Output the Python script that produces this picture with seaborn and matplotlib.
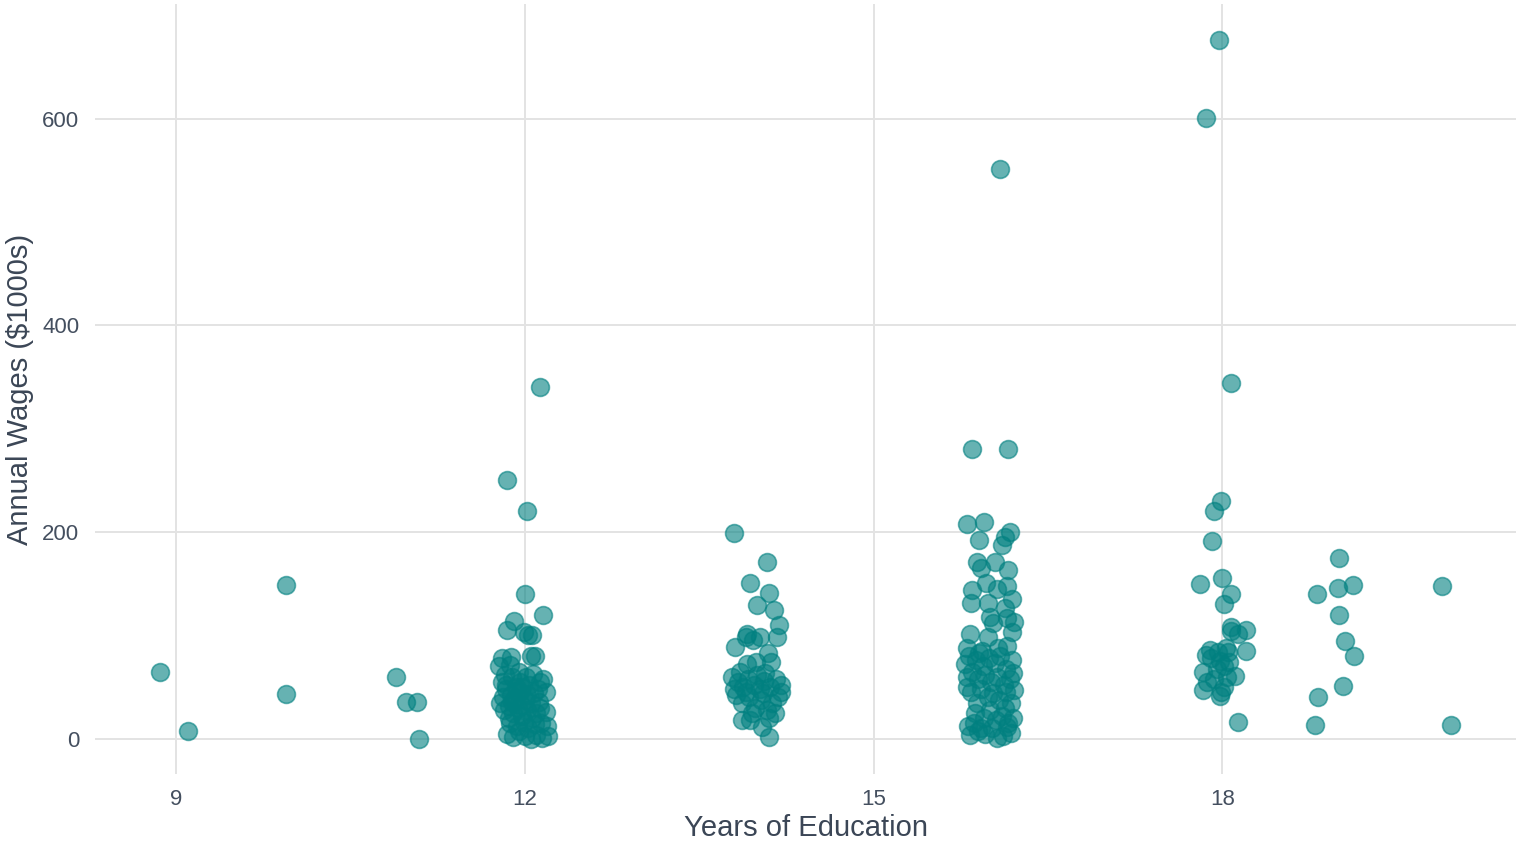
import matplotlib
matplotlib.use("Agg")
import matplotlib.pyplot as plt
import seaborn as sns
import pandas as pd

# Years of education (jittered positions) and annual wages ($1000s)
educ_low = [8.86, 9.10, 9.95, 9.95, 10.89, 10.98, 11.07, 11.09]
wage_low = [65, 8, 149, 43, 60, 36, 36, 0]

educ_12 = [12.13, 11.85, 12.02, 12.00, 12.16, 11.91, 11.85, 11.99, 12.03, 12.06, 12.09, 12.05,
           11.80, 11.88, 11.78, 11.87,
           11.80, 11.84, 11.88, 11.92, 11.96, 12.00, 12.04, 12.08, 12.12, 12.16, 12.18, 11.79,
           11.82, 11.86, 11.90, 11.94, 11.98, 12.02, 12.06, 12.10, 12.14, 12.18, 11.83, 11.89,
           11.95, 12.01, 12.07, 12.13, 12.19, 11.85, 11.90, 11.95, 12.00, 12.05, 12.10, 12.15,
           12.20, 11.87, 11.93, 11.99, 12.03, 12.09, 11.81, 11.97, 12.11, 11.91, 12.05, 11.86,
           12.13, 11.96, 11.84, 11.93, 12.02, 11.89, 11.98]
wage_12 = [340, 250, 220, 140, 120, 114, 105, 103, 100, 100, 80, 80,
           78, 79, 70, 71,
           55, 48, 42, 50, 45, 38, 52, 44, 36, 58, 45, 35,
           28, 32, 25, 30, 22, 28, 20, 25, 15, 26, 62, 60,
           65, 60, 63, 55, 12, 5, 2, 8, 3, 0, 4, 1,
           3, 15, 12, 16, 10, 14, 40, 33, 48, 38, 35, 20,
           30, 55, 52, 46, 42, 36, 50]

educ_14 = [13.80, 14.08, 13.94, 14.10, 14.00, 14.14, 14.19, 13.91, 13.90, 14.02, 14.17, 13.81,
           13.96, 14.09, 13.91, 13.99, 14.12, 13.87, 13.94, 14.04, 14.10,
           13.78, 13.83, 13.88, 13.92, 13.97, 14.02, 14.06, 14.11, 14.16, 14.20, 13.82, 13.87,
           13.93, 13.98, 14.03, 14.08, 14.13, 14.18, 13.90, 14.00, 14.15, 13.85, 14.05, 13.95,
           14.10, 14.20, 13.80, 14.07]
wage_14 = [199, 171, 151, 141, 129, 125, 110, 101, 99, 99, 99, 89,
           96, 83, 72, 74, 74, 18, 18, 11, 2,
           60, 55, 50, 58, 52, 48, 56, 50, 58, 45, 42, 35,
           40, 30, 38, 28, 35, 40, 45, 62, 25, 65, 44, 25,
           20, 52, 48, 64]

educ_16 = [16.09, 15.85, 16.16, 15.80, 15.95, 15.91, 16.17, 16.13, 16.10,
           15.89, 15.92, 16.04, 16.16, 15.97, 15.85, 16.15, 16.06, 15.84, 15.98, 16.19, 16.13,
           16.00, 16.03, 16.15, 16.21, 15.83, 15.98, 16.19, 15.80, 16.15, 15.91,
           15.79, 15.80, 15.80, 15.89, 16.20, 16.21, 15.81, 15.83, 16.06, 16.15, 15.92,
           15.82, 15.88, 15.94, 15.99, 16.04, 16.09, 16.14, 16.19, 15.85, 15.90, 15.96, 16.01,
           16.06, 16.12, 16.17, 15.84, 15.92, 15.98, 16.03, 16.08, 16.13, 16.18, 15.87, 15.95,
           16.00, 16.05, 16.10, 16.16, 16.20, 15.90, 15.96, 16.02, 16.11, 16.18, 15.93, 16.07,
           15.86, 16.14]
wage_16 = [551, 280, 280, 208, 210, 192, 200, 195, 188,
           171, 165, 171, 163, 151, 144, 148, 145, 131, 131, 135, 127,
           118, 112, 117, 113, 101, 99, 103, 88, 90, 83,
           72, 60, 50, 35, 64, 47, 12, 4, 1, 11, 10,
           80, 76, 70, 78, 73, 80, 68, 76, 65, 58, 62, 55,
           60, 52, 58, 45, 48, 40, 44, 38, 30, 35, 25, 20,
           28, 18, 22, 15, 20, 8, 5, 10, 3, 6, 85, 88,
           15, 45]

educ_18 = [17.97, 17.86, 18.07, 17.99, 17.93, 17.91, 18.00, 17.81, 18.07, 18.01,
           18.07, 18.07, 18.20, 18.13, 18.20, 17.89, 17.86, 17.96, 18.03, 18.05,
           17.98, 18.01, 17.83, 18.11, 17.87, 18.01, 17.83, 17.98, 18.13,
           17.90, 17.95, 18.04, 17.93, 18.06, 17.99]
wage_18 = [676, 601, 344, 230, 220, 191, 156, 150, 140, 130,
           108, 104, 105, 101, 85, 86, 81, 84, 88, 84,
           75, 70, 65, 61, 55, 50, 47, 41, 16,
           78, 68, 60, 58, 74, 45]

educ_high = [19.00, 18.81, 18.99, 19.12, 19.00, 19.05, 19.13, 19.04, 18.82, 18.80, 19.89, 19.97]
wage_high = [175, 140, 146, 149, 120, 95, 80, 51, 40, 13, 148, 13]

df = pd.DataFrame({
    "educ": educ_low + educ_12 + educ_14 + educ_16 + educ_18 + educ_high,
    "wage": wage_low + wage_12 + wage_14 + wage_16 + wage_18 + wage_high,
})

sns.set_theme(style="whitegrid")
plt.rcParams["font.family"] = ["Liberation Sans", "DejaVu Sans"]

fig = plt.figure(figsize=(15.16, 8.41), dpi=100)
ax = fig.add_axes([0.0624, 0.0797, 0.938, 0.9156])

sns.scatterplot(data=df, x="educ", y="wage", ax=ax, s=165, color="#008080",
                alpha=0.6, edgecolor="#008080", linewidth=1.2, legend=False)

ax.set_xlim(8.30, 20.53)
ax.set_ylim(-34, 711)
ax.set_xticks([9, 12, 15, 18])
ax.set_yticks([0, 200, 400, 600])
for s in ax.spines.values():
    s.set_visible(False)
ax.grid(True, color="#e3e3e3", linewidth=1.4)
ax.set_axisbelow(True)
ax.tick_params(axis="both", length=0, labelsize=16, labelcolor="#444f5f", pad=11)
ax.set_xlabel("Years of Education", fontsize=21, color="#3b4656", labelpad=3)
ax.set_ylabel("Annual Wages ($1000s)", fontsize=21, color="#3b4656", labelpad=6)

fig.savefig("out.png", dpi=100)
